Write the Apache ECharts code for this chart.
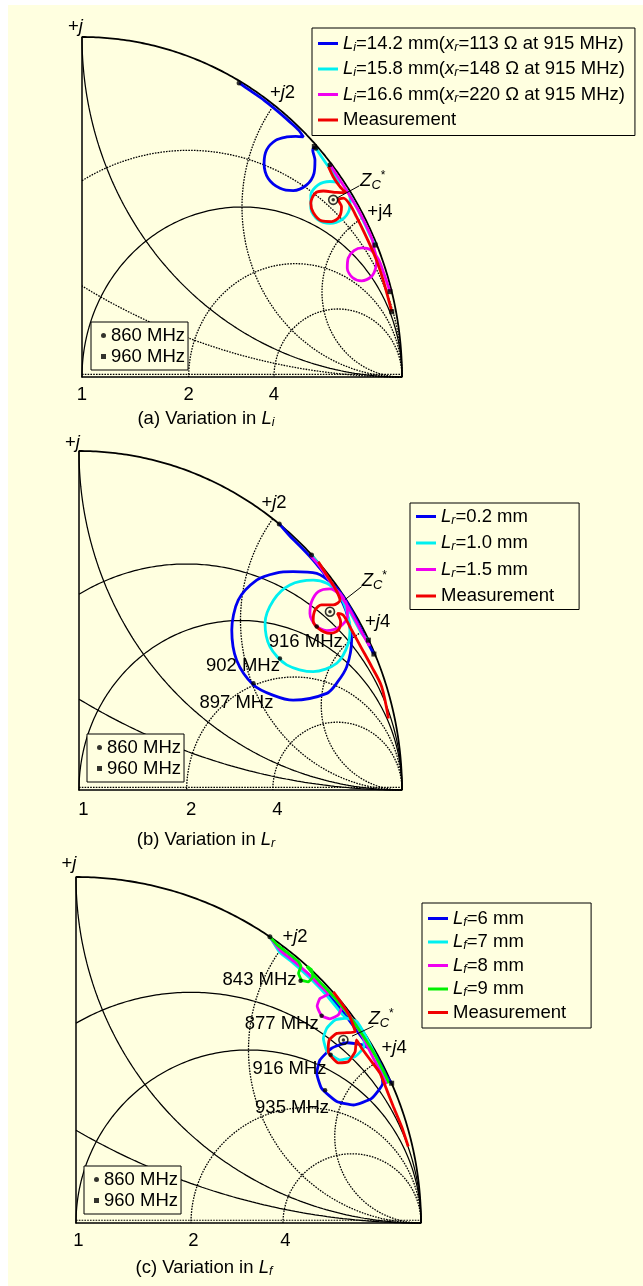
<!DOCTYPE html>
<html>
<head>
<meta charset="utf-8">
<script src="https://cdn.jsdelivr.net/npm/echarts@6/dist/echarts.min.js"></script>
<style>
html,body{margin:0;padding:0;background:#ffffff;}
#chart{width:643px;height:1286px;}
</style>
</head>
<body>
<div id="chart"></div>
<script>
// ---------------- grid values of the Smith-chart quadrant ----------------
const rValues = [0.5, 1, 2, 4];          // constant-resistance circles
const xValues = [0.5, 1, 2, 4];          // constant-reactance arcs
const axisTickR = [1, 2, 4];
const axisTickLabels = ['1', '2', '4'];
const arcTickX = [1, 2, 4];
const arcTickLabelsA = ['+{j|j}', '+{j|j}2', '+j4'];
const arcTickLabelsBC = ['+{j|j}', '+{j|j}2', '+{j|j}4'];

// ---------------- (a) Variation in Li : [Re Γ, Im Γ] ----------------
const blueA = [[0.491,0.865],[0.526,0.842],[0.570,0.813],[0.611,0.782],[0.651,0.749],[0.677,0.726],[0.692,0.706],[0.668,0.708],[0.640,0.706],[0.605,0.696],[0.577,0.668],[0.569,0.629],[0.582,0.584],[0.619,0.555],[0.660,0.548],[0.702,0.565],[0.725,0.599],[0.728,0.638],[0.721,0.668],[0.726,0.678]];
const cyanA = [[0.731,0.673],[0.757,0.636],[0.783,0.602],[0.806,0.572],[0.775,0.575],[0.738,0.565],[0.715,0.535],[0.715,0.496],[0.738,0.462],[0.775,0.452],[0.811,0.462],[0.835,0.491],[0.838,0.526],[0.825,0.552],[0.847,0.518],[0.876,0.466],[0.899,0.419],[0.916,0.388]];
const magentaA = [[0.775,0.624],[0.803,0.584],[0.832,0.541],[0.860,0.497],[0.885,0.451],[0.907,0.404],[0.913,0.376],[0.921,0.345],[0.917,0.318],[0.905,0.296],[0.874,0.283],[0.846,0.292],[0.829,0.320],[0.832,0.350],[0.850,0.372],[0.875,0.380],[0.902,0.374],[0.927,0.345],[0.943,0.305],[0.9625,0.251]];
const redA = [[0.770,0.619],[0.785,0.589],[0.806,0.560],[0.825,0.542],[0.796,0.543],[0.754,0.547],[0.728,0.540],[0.715,0.511],[0.723,0.483],[0.749,0.459],[0.780,0.457],[0.804,0.471],[0.811,0.501],[0.801,0.521],[0.817,0.526],[0.838,0.506],[0.858,0.471],[0.881,0.427],[0.905,0.378],[0.926,0.329],[0.947,0.266],[0.968,0.192]];
const dots860A = [[0.491,0.865],[0.731,0.673],[0.775,0.624]];
const squares960A = [[0.726,0.678],[0.916,0.388],[0.9625,0.251],[0.968,0.192]];
const zcA = [0.785,0.521];
const zcLeaderA = [[0.866,0.562],[0.796,0.526]];
const legendA = ['{it|L}{sb|i}=14.2 mm({it|x}{sb|r}=113 Ω at 915 MHz)','{it|L}{sb|i}=15.8 mm({it|x}{sb|r}=148 Ω at 915 MHz)','{it|L}{sb|i}=16.6 mm({it|x}{sb|r}=220 Ω at 915 MHz)','Measurement'];
const captionA = '(a) Variation in {it|L}{sb|i}';

// ---------------- (b) Variation in Lr ----------------
const blueB = [[0.620,0.785],[0.652,0.750],[0.690,0.714],[0.726,0.677],[0.760,0.637],[0.790,0.602],[0.815,0.555],[0.829,0.521],[0.844,0.442],[0.829,0.364],[0.800,0.318],[0.767,0.285],[0.663,0.265],[0.600,0.280],[0.540,0.310],[0.488,0.383],[0.473,0.472],[0.493,0.560],[0.550,0.619],[0.610,0.640],[0.663,0.644],[0.736,0.639],[0.792,0.602],[0.822,0.565],[0.850,0.518],[0.876,0.468],[0.898,0.427],[0.913,0.401]];
const cyanB = [[0.720,0.693],[0.745,0.663],[0.768,0.630],[0.790,0.598],[0.812,0.566],[0.824,0.541],[0.835,0.505],[0.839,0.482],[0.834,0.433],[0.798,0.374],[0.725,0.349],[0.643,0.369],[0.591,0.423],[0.576,0.492],[0.602,0.560],[0.653,0.605],[0.725,0.619],[0.767,0.610],[0.798,0.585],[0.828,0.543],[0.856,0.495],[0.878,0.458],[0.896,0.442]];
const magentaB = [[0.716,0.692],[0.745,0.660],[0.770,0.626],[0.792,0.595],[0.808,0.580],[0.829,0.546],[0.831,0.511],[0.808,0.482],[0.767,0.470],[0.731,0.487],[0.715,0.521],[0.720,0.555],[0.741,0.585],[0.777,0.593],[0.805,0.577],[0.832,0.542],[0.858,0.497],[0.882,0.453],[0.900,0.425]];
const redB = [[0.741,0.673],[0.767,0.634],[0.793,0.595],[0.808,0.560],[0.787,0.546],[0.751,0.546],[0.731,0.531],[0.725,0.501],[0.741,0.477],[0.777,0.462],[0.803,0.472],[0.810,0.496],[0.800,0.521],[0.818,0.516],[0.844,0.472],[0.875,0.418],[0.906,0.364],[0.937,0.305],[0.958,0.211]];
const dots860B = [[0.620,0.785],[0.720,0.693]];
const squares960B = [[0.896,0.442],[0.913,0.401]];
const freqMarksB = [[0.736,0.482],[0.622,0.388],[0.540,0.315]];
const freqLabelsB = ['916 MHz','902 MHz','897 MHz'];
const zcB = [0.777,0.526];
const zcLeaderB = [[0.875,0.600],[0.824,0.562]];
const legendB = ['{it|L}{sb|r}=0.2 mm','{it|L}{sb|r}=1.0 mm','{it|L}{sb|r}=1.5 mm','Measurement'];
const captionB = '(b) Variation in {it|L}{sb|r}';

// ---------------- (c) Variation in Lf ----------------
const blueC = [[0.562,0.827],[0.593,0.787],[0.633,0.755],[0.684,0.709],[0.732,0.659],[0.776,0.607],[0.807,0.565],[0.835,0.528],[0.862,0.495],[0.881,0.462],[0.889,0.404],[0.857,0.360],[0.804,0.341],[0.756,0.351],[0.712,0.389],[0.698,0.433],[0.707,0.471],[0.741,0.505],[0.785,0.521],[0.833,0.514],[0.862,0.495],[0.885,0.455],[0.900,0.425],[0.915,0.404]];
const cyanC = [[0.562,0.827],[0.590,0.783],[0.630,0.751],[0.681,0.705],[0.728,0.656],[0.772,0.603],[0.785,0.592],[0.814,0.582],[0.833,0.548],[0.835,0.510],[0.809,0.481],[0.765,0.471],[0.728,0.495],[0.717,0.534],[0.727,0.563],[0.751,0.587],[0.785,0.592],[0.814,0.582],[0.840,0.540],[0.865,0.490],[0.887,0.440],[0.905,0.410]];
const magentaC = [[0.562,0.827],[0.593,0.787],[0.633,0.755],[0.670,0.723],[0.705,0.688],[0.731,0.662],[0.707,0.649],[0.699,0.627],[0.712,0.599],[0.736,0.590],[0.760,0.601],[0.770,0.623],[0.763,0.645],[0.752,0.657],[0.777,0.622],[0.803,0.585],[0.830,0.540],[0.861,0.478],[0.885,0.432],[0.900,0.401]];
const greenC = [[0.562,0.827],[0.584,0.803],[0.618,0.777],[0.645,0.755],[0.652,0.742],[0.645,0.722],[0.654,0.702],[0.673,0.697],[0.686,0.712],[0.683,0.731],[0.669,0.742],[0.690,0.716],[0.702,0.702],[0.738,0.664],[0.783,0.611],[0.823,0.555],[0.860,0.497],[0.893,0.435],[0.907,0.404]];
const redC = [[0.746,0.668],[0.770,0.635],[0.794,0.596],[0.809,0.553],[0.785,0.550],[0.756,0.548],[0.734,0.529],[0.731,0.495],[0.760,0.463],[0.789,0.466],[0.809,0.495],[0.813,0.529],[0.828,0.505],[0.857,0.466],[0.881,0.433],[0.901,0.384],[0.920,0.336],[0.944,0.278],[0.963,0.221]];
const dots860C = [[0.562,0.827]];
const squares960C = [[0.915,0.404]];
const freqMarksC = [[0.651,0.700],[0.712,0.599],[0.738,0.486],[0.722,0.384]];
const freqLabelsC = ['843 MHz','877 MHz','916 MHz','935 MHz'];
const zcC = [0.775,0.529];
const zcLeaderC = [[0.862,0.569],[0.800,0.540]];
const legendC = ['{it|L}{sb|f}=6 mm','{it|L}{sb|f}=7 mm','{it|L}{sb|f}=8 mm','{it|L}{sb|f}=9 mm','Measurement'];
const captionC = '(c) Variation in {it|L}{sb|f}';

// ---------------- styling ----------------
const BG = '#FFFFE0';
const FONT = '"Liberation Sans", Arial, Helvetica, sans-serif';
const FS = 18.5;
const BLUE = '#0000F0', CYAN = '#00F0F0', MAGENTA = '#F000F0', RED = '#F00000', GREEN = '#00F000';
const GRIDS = [
  {left: 82, top: 37, width: 320, height: 340},
  {left: 79, top: 451, width: 323, height: 339},
  {left: 76, top: 877, width: 345, height: 346}
];
const rich = {
  it: {fontStyle: 'italic', fontSize: FS, fontFamily: FONT, color: '#000', lineHeight: 21},
  j: {fontStyle: 'italic', fontSize: FS, fontFamily: FONT, color: '#000', lineHeight: 21},
  sb: {fontStyle: 'italic', fontSize: 12.5, fontFamily: FONT, color: '#000', verticalAlign: 'bottom', lineHeight: 12},
  z: {fontStyle: 'italic', fontSize: FS, fontFamily: FONT, color: '#000', lineHeight: 22},
  s: {fontStyle: 'italic', fontSize: 13, fontFamily: FONT, color: '#000', verticalAlign: 'bottom', lineHeight: 12},
  p: {fontSize: 12, fontFamily: FONT, color: '#000', verticalAlign: 'top', lineHeight: 10}
};
const LABEL_BASE = {show: true, color: '#000', fontSize: FS, fontFamily: FONT, lineHeight: 21,
  textBorderWidth: 0, textBorderColor: 'transparent', textShadowBlur: 0, opacity: 1};

function rCircle(r) {
  const c = r / (1 + r), R = 1 / (1 + r);
  const tMax = r < 1 ? Math.acos(-r) : Math.PI;
  const pts = [];
  for (let i = 0; i <= 180; i++) { const t = tMax * i / 180; pts.push([c + R * Math.cos(t), R * Math.sin(t)]); }
  return pts;
}
function xCircle(x) {
  const R = 1 / x;
  let end;
  if (x < 1) end = -Math.acos(-x);
  else {
    end = Math.atan2(2 * x / (x * x + 1) - R, (x * x - 1) / (x * x + 1) - 1);
    if (end > -Math.PI / 2) end -= 2 * Math.PI;
  }
  const start = -Math.PI / 2, pts = [];
  for (let i = 0; i <= 180; i++) { const f = start + (end - start) * i / 180; pts.push([1 + R * Math.cos(f), R + R * Math.sin(f)]); }
  return pts;
}
function unitArc() {
  const pts = [];
  for (let i = 0; i <= 180; i++) { const t = Math.PI / 2 * i / 180; pts.push([Math.cos(t), Math.sin(t)]); }
  return pts;
}

const series = [];
function addLine(g, name, data, color, width, dashed, z, smooth) {
  series.push({
    type: 'line', name, xAxisIndex: g, yAxisIndex: g, data, symbol: 'none', showSymbol: false,
    smooth: smooth || false, clip: false, silent: true, z: z || 2, animation: false,
    lineStyle: {color, width, type: dashed ? [1.6, 1.2] : 'solid', cap: 'butt'},
    itemStyle: {color}
  });
}
function addScatter(g, name, data, symbol, size, z) {
  series.push({
    type: 'scatter', name, xAxisIndex: g, yAxisIndex: g, data, symbol, symbolSize: size,
    itemStyle: {color: '#000'}, silent: true, z: z || 6, animation: false
  });
}
function addLabels(g, name, items, labelExtra) {
  series.push({
    type: 'scatter', name, xAxisIndex: g, yAxisIndex: g, data: items, symbolSize: 0,
    itemStyle: {color: '#000'}, silent: true, z: 8, animation: false,
    label: Object.assign({}, LABEL_BASE, {position: 'inside', formatter: '{b}', rich}, labelExtra || {})
  });
}

const dottedTest = [
  v => v !== 1,
  v => v >= 2,
  v => v >= 2
];
const arcOffsets = [
  [[-6.5, -10.5], [8.5, -11.7], [15.6, -5.3]],
  [[-6.5, -8.5], [1.2, -15.5], [13.6, -8.8]],
  [[-7, -13], [12, -9.5], [13.7, -11.9]]
];
const tickOffsets = [[0, 18], [4.5, 20], [2.5, 17.8]];
const zcLabelOffsets = [[1, -5], [0, -6], [-5, -7]];

for (let g = 0; g < 3; g++) {
  rValues.forEach(r => {
    const d = dottedTest[g](r);
    addLine(g, 'r' + r + '_' + g, rCircle(r), '#000', d ? 1.3 : 1.25, d, 1);
  });
  xValues.forEach(x => {
    const d = dottedTest[g](x);
    addLine(g, 'x' + x + '_' + g, xCircle(x), '#000', d ? 1.3 : 1.25, d, 1);
  });
  addLine(g, 'unit_' + g, unitArc(), '#000', 1.8, false, 1);
  addLine(g, 'realaxis_' + g, [[0, 0.008], [1, 0.008]], '#000', 1.2, true, 1);
  addLabels(g, 'ticks_' + g, axisTickR.map((r, i) => ({name: axisTickLabels[i], value: [(r - 1) / (r + 1), 0]})),
    {offset: tickOffsets[g]});
  const arcLabels = g === 0 ? arcTickLabelsA : arcTickLabelsBC;
  addLabels(g, 'arc_' + g, arcTickX.map((x, i) => ({
    name: arcLabels[i],
    value: [(x * x - 1) / (x * x + 1), 2 * x / (x * x + 1)],
    label: {offset: arcOffsets[g][i]}
  })));
}

// data curves
const curveSets = [
  [['LiA1', blueA, BLUE], ['LiA2', cyanA, CYAN], ['LiA3', magentaA, MAGENTA], ['MeasA', redA, RED]],
  [['LrB1', blueB, BLUE], ['LrB2', cyanB, CYAN], ['LrB3', magentaB, MAGENTA], ['MeasB', redB, RED]],
  [['LfC1', blueC, BLUE], ['LfC2', cyanC, CYAN], ['LfC3', magentaC, MAGENTA], ['LfC4', greenC, GREEN], ['MeasC', redC, RED]]
];
curveSets.forEach((set, g) => set.forEach(([name, data, color], k) => addLine(g, name, data, color, 2.8, false, 3 + k * 0.1, g === 2 ? 0.15 : 0.3)));

// 860 / 960 MHz markers
const markerSets = [[dots860A, squares960A], [dots860B, squares960B], [dots860C, squares960C]];
const tag = ['a', 'b', 'c'];
markerSets.forEach(([d, s], g) => {
  addScatter(g, 'm860' + tag[g], d, 'circle', 5);
  addScatter(g, 'm960' + tag[g], s, 'rect', 5);
});

// Zc* markers
const zcs = [zcA, zcB, zcC];
const leaders = [zcLeaderA, zcLeaderB, zcLeaderC];
zcs.forEach((p, g) => {
  series.push({type: 'scatter', name: 'zcRing' + g, xAxisIndex: g, yAxisIndex: g, data: [p], symbol: 'circle', symbolSize: 9,
    itemStyle: {color: 'rgba(0,0,0,0)', borderColor: '#000', borderWidth: 1.6}, silent: true, z: 7, animation: false});
  addScatter(g, 'zcDot' + g, [p], 'circle', 3.5, 7);
  addLine(g, 'zcLeader' + g, leaders[g], '#000', 1, false, 7);
  addLabels(g, 'zcLabel' + g, [{name: '{z|Z}{s|C}{p|*}', value: leaders[g][0]}],
    {position: 'right', distance: 0, offset: zcLabelOffsets[g]});
});

// frequency annotations
const annOffsetsB = [[-11, 15], [-37, 7], [-17, 20]];
const annOffsetsC = [[-41, -1], [-40, 8], [-41, 14], [-33, 17.5]];
addScatter(1, 'fdotsB', freqMarksB, 'circle', 4.5, 7);
addLabels(1, 'flabB', freqMarksB.map((v, i) => ({name: freqLabelsB[i], value: v, label: {offset: annOffsetsB[i]}})));
addScatter(2, 'fdotsC', freqMarksC, 'circle', 4.5, 7);
addLabels(2, 'flabC', freqMarksC.map((v, i) => ({name: freqLabelsC[i], value: v, label: {offset: annOffsetsC[i]}})));

// legends
const legendTextMap = {};
['LiA1', 'LiA2', 'LiA3', 'MeasA'].forEach((n, i) => legendTextMap[n] = legendA[i]);
['LrB1', 'LrB2', 'LrB3', 'MeasB'].forEach((n, i) => legendTextMap[n] = legendB[i]);
['LfC1', 'LfC2', 'LfC3', 'LfC4', 'MeasC'].forEach((n, i) => legendTextMap[n] = legendC[i]);
tag.forEach(t => { legendTextMap['m860' + t] = '860 MHz'; legendTextMap['m960' + t] = '960 MHz'; });

const legendBase = {
  orient: 'vertical', selectedMode: false, backgroundColor: BG, borderColor: '#000', borderWidth: 1,
  formatter: n => legendTextMap[n],
  textStyle: {color: '#000', fontSize: FS, fontFamily: FONT, lineHeight: 21, rich}
};
const mainLegend = (names, left, top, gap, padding) => Object.assign({}, legendBase, {
  data: names, left, top, itemGap: gap, padding, icon: 'rect', itemWidth: 20, itemHeight: 3
});
const markerLegend = (t, left, top) => Object.assign({}, legendBase, {
  data: [{name: 'm860' + t, icon: 'circle'}, {name: 'm960' + t, icon: 'rect'}],
  left, top, itemGap: 2, padding: [4, 3, 4, 10], itemWidth: 5, itemHeight: 5,
  textStyle: {color: '#000', fontSize: FS, fontFamily: FONT, lineHeight: 18}
});

const legends = [
  mainLegend(['LiA1', 'LiA2', 'LiA3', 'MeasA'], 312, 28, 4.5, [5, 10, 5, 6]),
  mainLegend(['LrB1', 'LrB2', 'LrB3', 'MeasB'], 410, 503, 5.5, [3, 25, 3, 6]),
  mainLegend(['LfC1', 'LfC2', 'LfC3', 'LfC4', 'MeasC'], 422, 903, 2.5, [5, 25, 5, 6]),
  markerLegend('a', 91, 322),
  markerLegend('b', 87, 734),
  markerLegend('c', 84, 1166)
];

const captions = [[captionA, 206, 419], [captionB, 206, 840], [captionC, 204, 1268]];
const graphic = [
  {type: 'rect', shape: {x: 0, y: 0, width: 643, height: 5}, style: {fill: '#fff'}, silent: true, z: 50},
  {type: 'rect', shape: {x: 0, y: 0, width: 8, height: 1286}, style: {fill: '#fff'}, silent: true, z: 50}
].concat(captions.map(([t, x, y]) => ({
  type: 'text', x, y, silent: true, z: 50,
  style: {text: t, rich, fontSize: FS, fontFamily: FONT, lineHeight: 21, fill: '#000', align: 'center', verticalAlign: 'middle', textAlign: 'center', textVerticalAlign: 'middle'}
})));

const axisCommon = {
  type: 'value', min: 0, max: 1,
  axisLine: {show: true, onZero: false, lineStyle: {color: '#000', width: 1.5}},
  axisTick: {show: false}, axisLabel: {show: false}, splitLine: {show: false}
};

const option = {
  backgroundColor: BG,
  animation: false,
  grid: GRIDS.map(g => Object.assign({containLabel: false, outerBoundsMode: 'none'}, g)),
  xAxis: GRIDS.map((g, i) => Object.assign({gridIndex: i}, axisCommon)),
  yAxis: GRIDS.map((g, i) => Object.assign({gridIndex: i}, axisCommon)),
  legend: legends,
  graphic,
  series
};
const chart = echarts.init(document.getElementById('chart'));
chart.setOption(option);
</script>
</body>
</html>
